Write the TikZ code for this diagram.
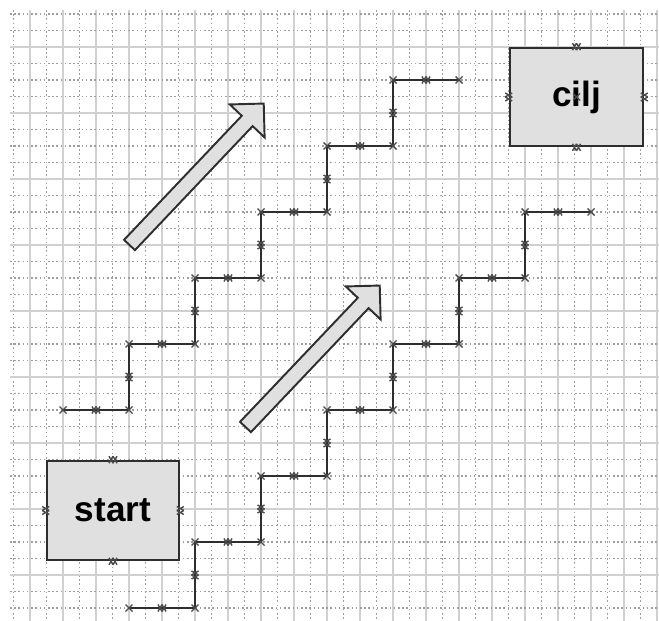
\documentclass[tikz,border=0pt]{standalone}
\usepackage{fontspec}
\setmainfont{Liberation Sans}
\definecolor{gridsolid}{HTML}{D0D0D0}
\definecolor{griddot}{HTML}{9E9E9E}
\definecolor{boxfill}{HTML}{E0E0E0}
\definecolor{inkdark}{HTML}{2E2E2E}
\definecolor{markgray}{HTML}{4A4A4A}
\tikzset{
  gsolid/.style={draw=gridsolid, line width=0.6pt},
  gdot/.style={draw=griddot, line width=0.8pt, dash pattern=on 0.9pt off 1.5pt},
  stairline/.style={draw=inkdark, line width=1.6pt, line join=miter},
  boxstyle/.style={draw=inkdark, fill=boxfill, line width=1.5pt, inner sep=0pt},
  labeltext/.style={font=\fontsize{20}{21}\selectfont\bfseries, text=black},
  blockarrow/.style={draw=inkdark, fill=boxfill, line width=1.1pt, line join=miter},
  markline/.style={draw=markgray, line width=0.8pt},
  xm/.pic={\draw[markline] (-3.5,-3.5) -- (3.5,3.5) (-3.5,3.5) -- (3.5,-3.5);},
  hm/.pic={\draw[markline] (-4,-3.5) -- (0,3.5) (-4,3.5) -- (0,-3.5) (0,-3.5) -- (4,3.5) (0,3.5) -- (4,-3.5);},
  vm/.pic={\draw[markline] (-3.5,-4) -- (3.5,0) (3.5,-4) -- (-3.5,0) (-3.5,0) -- (3.5,4) (3.5,0) -- (-3.5,4);}
}
\begin{document}
\begin{tikzpicture}[x=0.02cm,y=-0.02cm]
\useasboundingbox (0,0) rectangle (659,621);
\fill[white] (0,0) rectangle (659,621);
% grid
\begin{scope}
\clip (10,10) rectangle (659,621);
\foreach \k in {0,...,39} {
  \pgfmathsetmacro\xx{13.5+16.5*\k}
  \ifodd\k
    \draw[gsolid] (\xx,10) -- (\xx,621);
  \else
    \draw[gdot] (\xx,10) -- (\xx,621);
  \fi
}
\foreach \k in {0,...,36} {
  \pgfmathsetmacro\yy{14+16.5*\k}
  \pgfmathtruncatemacro\mm{mod(\k,4)}
  \ifnum\mm=2
    \draw[gsolid] (10,\yy) -- (659,\yy);
  \else
    \draw[gdot] (10,\yy) -- (659,\yy);
  \fi
}
\end{scope}
% boxes
\node[boxstyle, minimum width=2.64cm, minimum height=1.98cm] (start) at (113,510.5) {};
\node[boxstyle, minimum width=2.66cm, minimum height=1.96cm] (cilj) at (576.5,97) {};
\foreach \p in {start,cilj} {
  \pic at (\p.north) {hm};
  \pic at (\p.south) {hm};
  \pic at (\p.west) {vm};
  \pic at (\p.east) {vm};
}
\node[labeltext] (starttext) at (start.center) {start};
\node[labeltext] (cilјtext) at (cilj.center) {cilj};
\pic at (cilj.center) {xm};
% block arrows
\begin{scope}[shift={(129.5,245)}, rotate=46.5]
  \draw[blockarrow] (0,-7.5) -- (171,-7.5) -- (171,-24) -- (195,0) -- (171,24) -- (171,7.5) -- (0,7.5) -- cycle;
\end{scope}
\begin{scope}[shift={(245.5,427)}, rotate=46.5]
  \draw[blockarrow] (0,-7.5) -- (171,-7.5) -- (171,-24) -- (195,0) -- (171,24) -- (171,7.5) -- (0,7.5) -- cycle;
\end{scope}
% staircase A
\coordinate (a0) at (63,410);
\coordinate (aend) at (459,80);
\draw[stairline] (a0) \foreach \i in {0,...,4} { -- ({129+66*\i},{410-66*\i}) -- ({129+66*\i},{344-66*\i}) } -- (aend);
\pic at (a0) {xm};
\foreach \i in {0,...,4} {
  \pic at ({96+66*\i},{410-66*\i}) {hm};
  \pic at ({129+66*\i},{410-66*\i}) {xm};
  \pic at ({129+66*\i},{377-66*\i}) {vm};
  \pic at ({129+66*\i},{344-66*\i}) {xm};
}
\pic at (426,80) {hm};
\pic at (aend) {xm};
% staircase B
\coordinate (b0) at (129,608);
\coordinate (bend) at (591,212);
\draw[stairline] (b0) \foreach \i in {0,...,5} { -- ({195+66*\i},{608-66*\i}) -- ({195+66*\i},{542-66*\i}) } -- (bend);
\pic at (b0) {xm};
\foreach \i in {0,...,5} {
  \pic at ({162+66*\i},{608-66*\i}) {hm};
  \pic at ({195+66*\i},{608-66*\i}) {xm};
  \pic at ({195+66*\i},{575-66*\i}) {vm};
  \pic at ({195+66*\i},{542-66*\i}) {xm};
}
\pic at (558,212) {hm};
\pic at (bend) {xm};
\end{tikzpicture}
\end{document}
